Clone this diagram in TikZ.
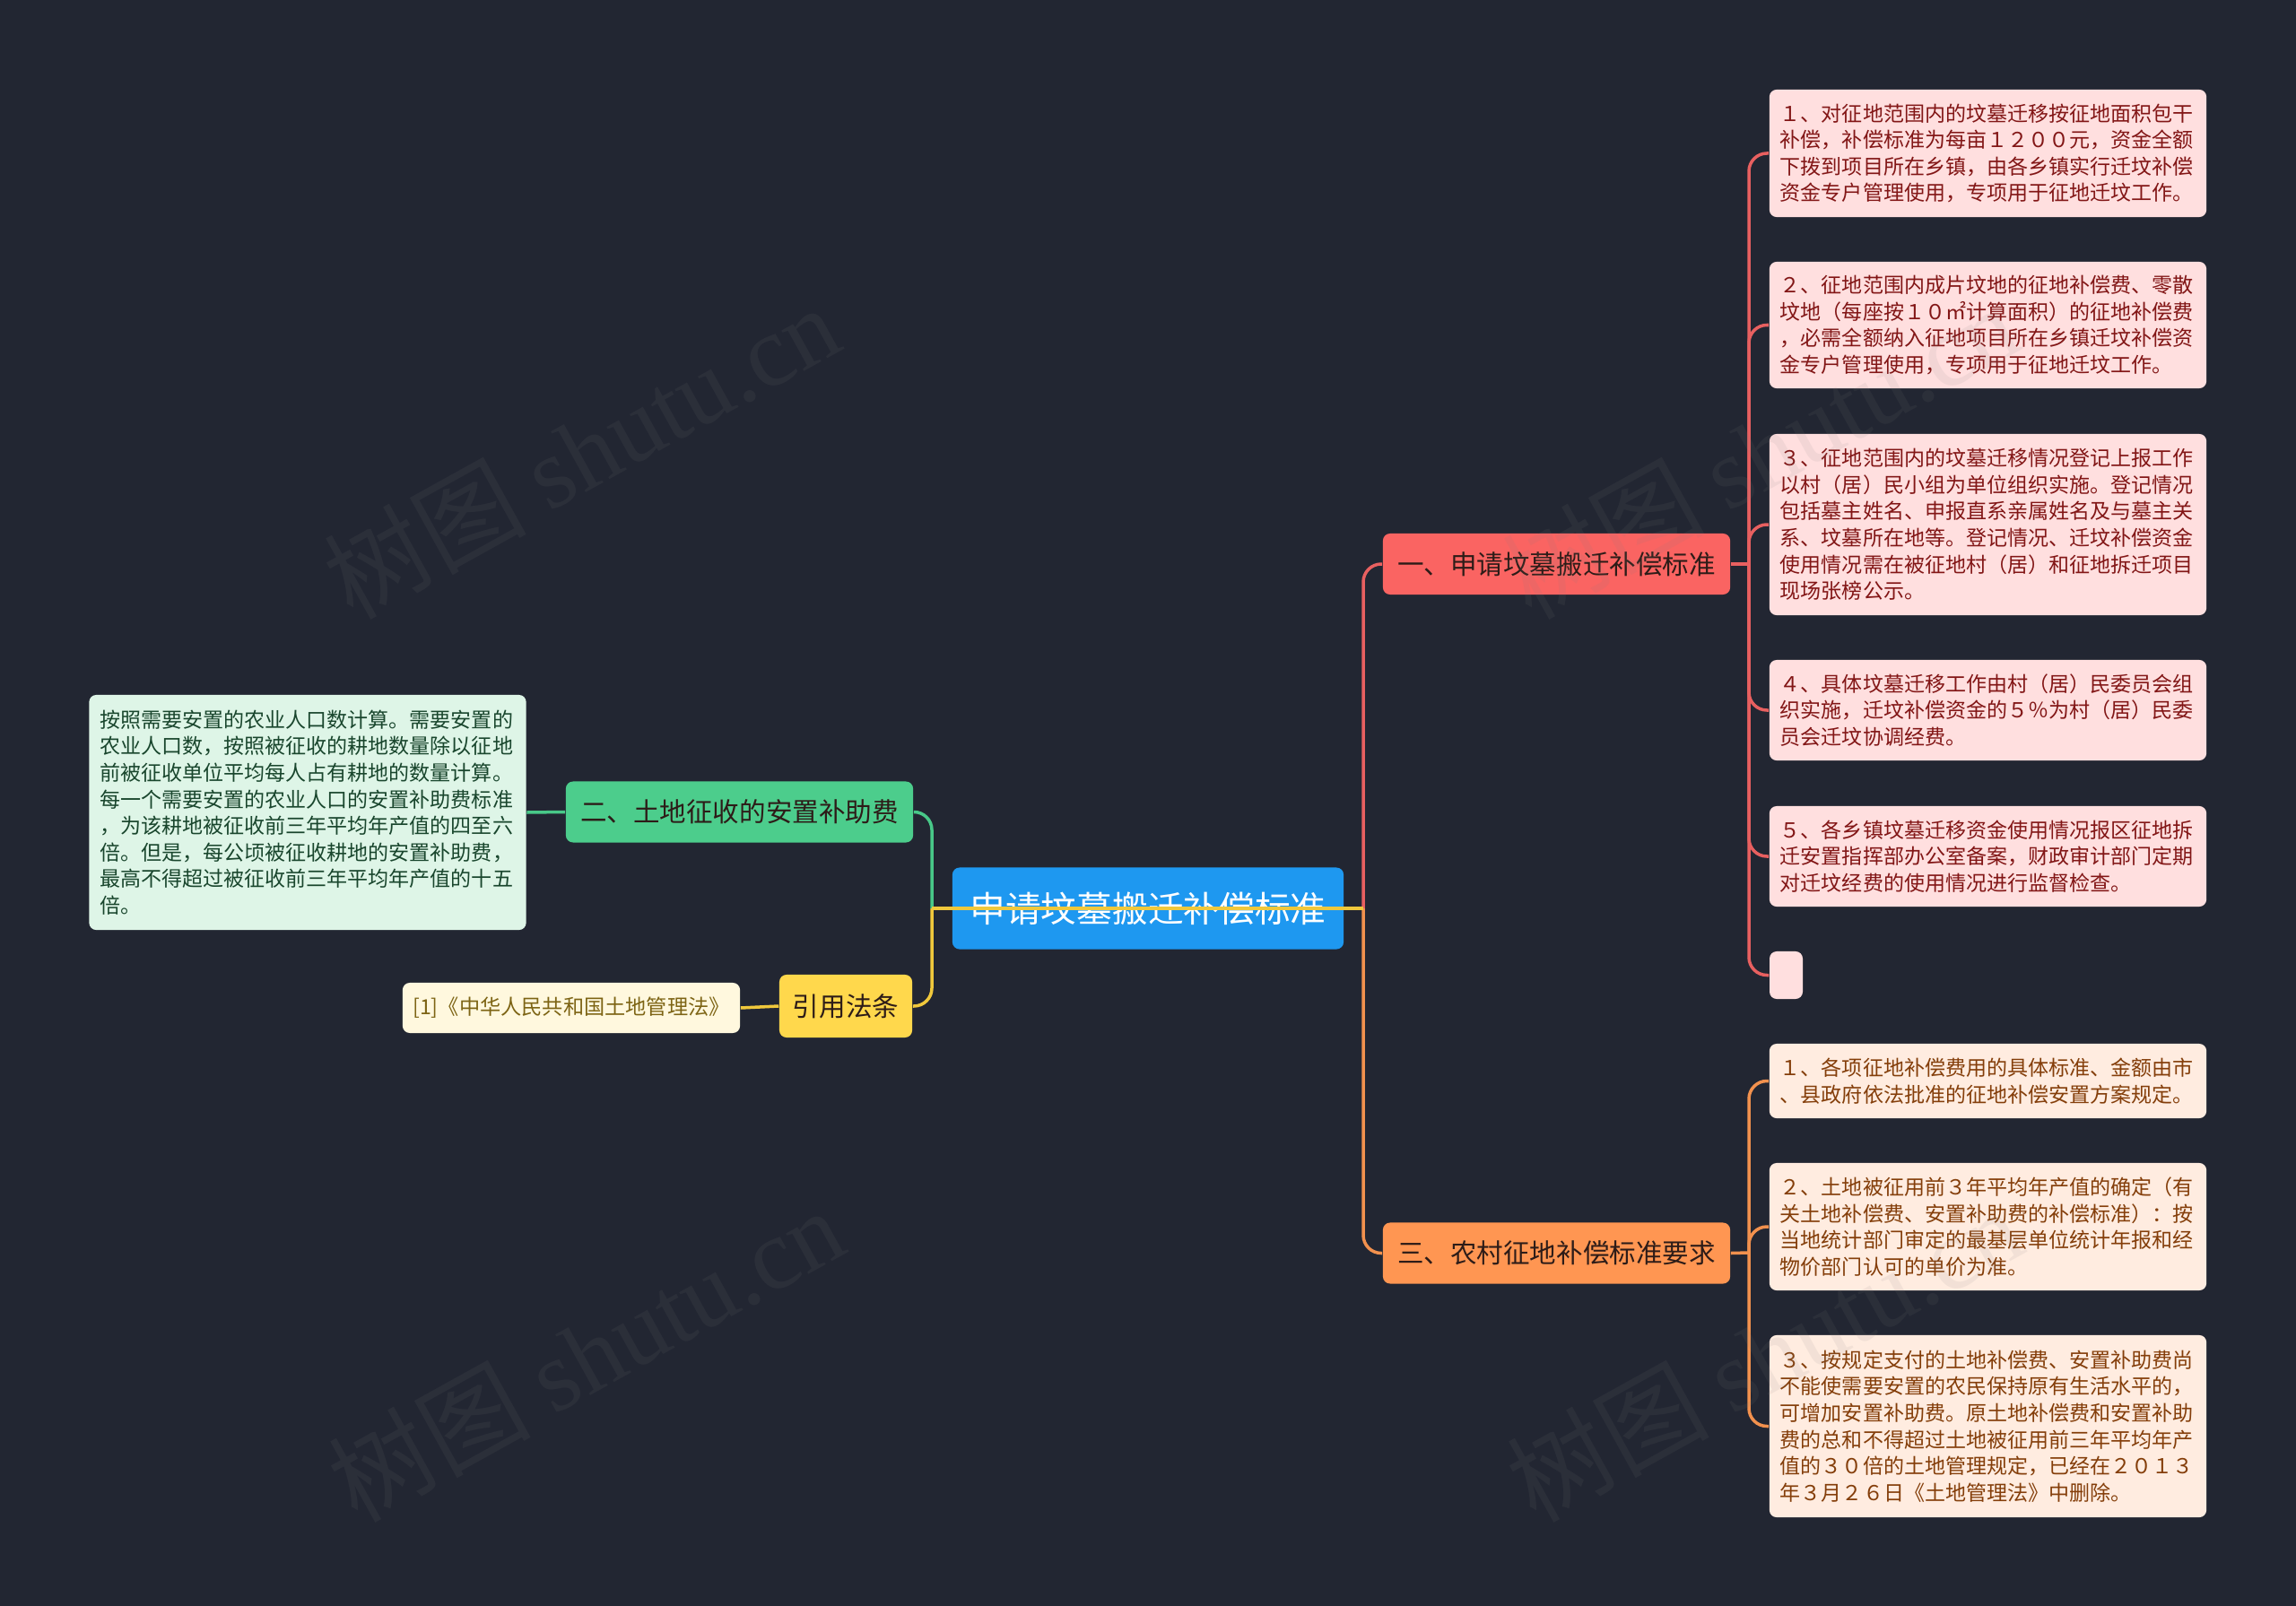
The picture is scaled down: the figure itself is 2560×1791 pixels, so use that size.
\documentclass[tikz,border=0pt]{standalone}
\usepackage{fontspec}
\setmainfont{Noto Sans CJK SC}
\newfontfamily\wmlat{Liberation Serif}
\definecolor{bgc}{RGB}{34,38,50}
\definecolor{cfill}{RGB}{30,152,240}
\definecolor{redb}{RGB}{250,100,98}
\definecolor{redc}{RGB}{255,223,223}
\definecolor{redt}{RGB}{130,22,22}
\definecolor{redl}{RGB}{232,96,96}
\definecolor{orgb}{RGB}{255,150,82}
\definecolor{orgc}{RGB}{255,236,224}
\definecolor{orgt}{RGB}{132,62,10}
\definecolor{orgl}{RGB}{242,145,78}
\definecolor{grnb}{RGB}{76,205,140}
\definecolor{grnc}{RGB}{222,245,231}
\definecolor{grnt}{RGB}{25,70,45}
\definecolor{grnl}{RGB}{72,200,136}
\definecolor{ylwb}{RGB}{255,216,76}
\definecolor{ylwc}{RGB}{255,248,222}
\definecolor{ylwt}{RGB}{125,100,20}
\definecolor{ylwl}{RGB}{240,200,60}
\definecolor{branchtxt}{RGB}{45,28,24}
\tikzset{
  box/.style={rounded corners=0.08cm, inner sep=0pt, align=center},
  cnode/.style={box, fill=cfill, text=white, minimum width=4.36cm, minimum height=0.91cm,
    font=\fontsize{11.3pt}{13pt}\selectfont},
  branch/.style={box, minimum width=3.87cm, minimum height=0.68cm, text=branchtxt,
    font=\fontsize{8.4pt}{10pt}\selectfont},
  child/.style={rounded corners=0.08cm, inner xsep=0.12cm, inner ysep=0pt, align=left,
    text width=4.63cm, font=\fontsize{6.55pt}{8.4pt}\selectfont},
  redchild/.style={child, fill=redc, text=redt},
  orgchild/.style={child, fill=orgc, text=orgt},
  grnchild/.style={child, fill=grnc, text=grnt},
  conn/.style={line width=0.035cm, rounded corners=0.2cm},
  wm/.style={rotate=29, text=gray, opacity=0.1, font=\fontsize{32pt}{32pt}\selectfont}
}
\begin{document}
\begin{tikzpicture}[x=0.01cm,y=-0.01cm]
\fill[bgc] (0,0) rectangle (2560,1791);
\useasboundingbox (0,0) rectangle (2560,1791);

% junction coordinates
\coordinate (jl) at (1039,1013);
\coordinate (jr) at (1520,1013);
\coordinate (rj) at (1950,629);
\coordinate (oj) at (1950,1397);

% main and branch nodes
\node[cnode] (c) at (1280,1013) {申请坟墓搬迁补偿标准};
\node[branch, fill=redb] (b1) at (1735.5,629) {一、申请坟墓搬迁补偿标准};
\node[branch, fill=orgb] (b3) at (1735.5,1397.5) {三、农村征地补偿标准要求};
\node[branch, fill=grnb] (b2) at (824.5,905.5) {二、土地征收的安置补助费};
\node[branch, fill=ylwb, minimum width=1.48cm, minimum height=0.70cm] (b4) at (943,1122) {引用法条};

% left leaves
\node[grnchild, minimum height=2.62cm] (g1) at (343,906) {按照需要安置的农业人口数计算。需要安置的\\农业人口数，按照被征收的耕地数量除以征地\\前被征收单位平均每人占有耕地的数量计算。\\每一个需要安置的农业人口的安置补助费标准\\，为该耕地被征收前三年平均年产值的四至六\\倍。但是，每公顷被征收耕地的安置补助费，\\最高不得超过被征收前三年平均年产值的十五\\倍。};
\node[box, fill=ylwc, text=ylwt, minimum width=3.76cm, minimum height=0.56cm,
  font=\fontsize{6.6pt}{8pt}\selectfont] (y1) at (637,1124) {[1]《中华人民共和国土地管理法》};

% red leaves
\node[redchild, minimum height=1.42cm] (r1) at (2216.5,171) {１、对征地范围内的坟墓迁移按征地面积包干\\补偿，补偿标准为每亩１２００元，资金全额\\下拨到项目所在乡镇，由各乡镇实行迁坟补偿\\资金专户管理使用，专项用于征地迁坟工作。};
\node[redchild, minimum height=1.41cm] (r2) at (2216.5,362.5) {２、征地范围内成片坟地的征地补偿费、零散\\坟地（每座按１０㎡计算面积）的征地补偿费\\，必需全额纳入征地项目所在乡镇迁坟补偿资\\金专户管理使用，专项用于征地迁坟工作。};
\node[redchild, minimum height=2.02cm] (r3) at (2216.5,585) {３、征地范围内的坟墓迁移情况登记上报工作\\以村（居）民小组为单位组织实施。登记情况\\包括墓主姓名、申报直系亲属姓名及与墓主关\\系、坟墓所在地等。登记情况、迁坟补偿资金\\使用情况需在被征地村（居）和征地拆迁项目\\现场张榜公示。};
\node[redchild, minimum height=1.12cm] (r4) at (2216.5,792) {４、具体坟墓迁移工作由村（居）民委员会组\\织实施，迁坟补偿资金的５％为村（居）民委\\员会迁坟协调经费。};
\node[redchild, minimum height=1.12cm] (r5) at (2216.5,955) {５、各乡镇坟墓迁移资金使用情况报区征地拆\\迁安置指挥部办公室备案，财政审计部门定期\\对迁坟经费的使用情况进行监督检查。};
\node[box, fill=redc, minimum width=0.37cm, minimum height=0.53cm] (r6) at (1991.5,1087.5) {};

% orange leaves
\node[orgchild, minimum height=0.83cm] (o1) at (2216.5,1205.5) {１、各项征地补偿费用的具体标准、金额由市\\、县政府依法批准的征地补偿安置方案规定。};
\node[orgchild, minimum height=1.42cm] (o2) at (2216.5,1368) {２、土地被征用前３年平均年产值的确定（有\\关土地补偿费、安置补助费的补偿标准）：按\\当地统计部门审定的最基层单位统计年报和经\\物价部门认可的单价为准。};
\node[orgchild, minimum height=2.03cm] (o3) at (2216.5,1590.5) {３、按规定支付的土地补偿费、安置补助费尚\\不能使需要安置的农民保持原有生活水平的，\\可增加安置补助费。原土地补偿费和安置补助\\费的总和不得超过土地被征用前三年平均年产\\值的３０倍的土地管理规定，已经在２０１３\\年３月２６日《土地管理法》中删除。};

% left connectors
\draw[conn, grnl] (b2.east) -| (jl);
\draw[conn, grnl] (b2.west) -- (g1.east);
\draw[conn, ylwl] (b4.east) -| (jl);
\draw[conn, ylwl] (b4.west) -- (y1.east);

% right connectors
\draw[conn, redl] (jr) |- (b1.west);
\draw[conn, orgl] (jr) |- (b3.west);
\draw[conn, redl] (b1.east) -- (rj);
\foreach \n in {r1,r2,r3,r4,r5,r6} \draw[conn, redl] (rj) |- (\n.west);
\draw[conn, orgl] (b3.east) -- (oj);
\foreach \n in {o1,o2,o3} \draw[conn, orgl] (oj) |- (\n.west);

% line running across the central node
\draw[line width=0.035cm, ylwl] (jl) -- (jr);

% watermarks
\node[wm] (w1) at (648,503) {树图 {\wmlat shutu.cn}};
\node[wm] (w2) at (653,1510) {树图 {\wmlat shutu.cn}};
\node[wm] (w3) at (1962,503) {树图 {\wmlat shutu.cn}};
\node[wm] (w4) at (1967,1510) {树图 {\wmlat shutu.cn}};
\end{tikzpicture}
\end{document}
